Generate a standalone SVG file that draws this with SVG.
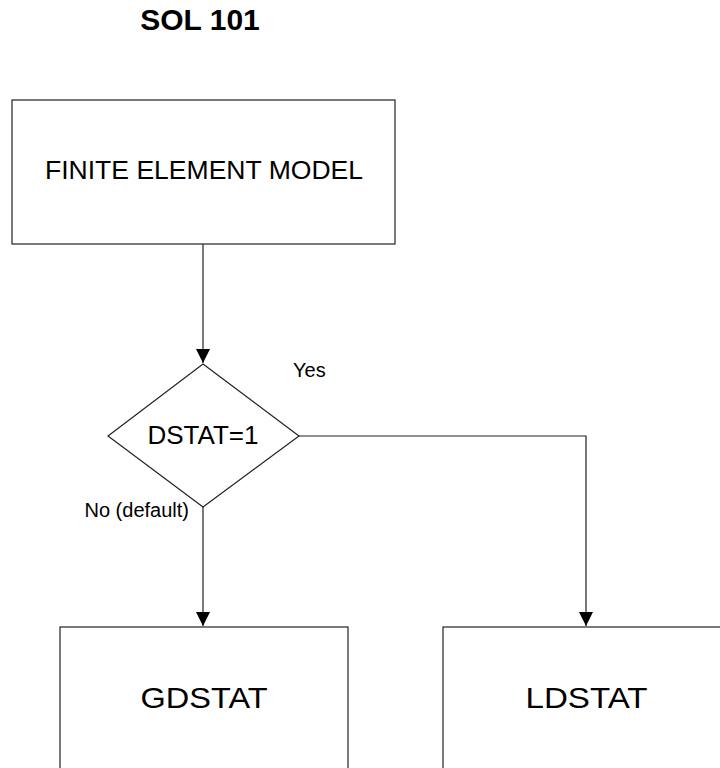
<svg xmlns="http://www.w3.org/2000/svg" width="720" height="768" viewBox="0 0 720 768">
  <defs>
    <style>
      .box { fill: #ffffff; stroke: #222222; stroke-width: 1.2; }
      .wire { fill: none; stroke: #222222; stroke-width: 1.2; }
      .txt { font-family: "Liberation Sans", Arial, sans-serif; fill: #000000; }
    </style>
    <marker id="arrow" markerUnits="userSpaceOnUse" markerWidth="14" markerHeight="14" viewBox="0 0 14 14" refX="14" refY="7" orient="auto">
      <path d="M0,0 L14,7 L0,14 Z" fill="#000000"/>
    </marker>
  </defs>
  <rect width="720" height="768" fill="#ffffff"/>

  <text class="txt" x="200" y="30" font-size="30" font-weight="bold" text-anchor="middle">SOL 101</text>

  <g id="fem">
    <rect class="box" x="12" y="100" width="383" height="144"/>
    <text class="txt" x="204" y="179" font-size="25.5" text-anchor="middle" textLength="318" lengthAdjust="spacingAndGlyphs">FINITE ELEMENT MODEL</text>
  </g>

  <g id="dstat">
    <polygon class="box" points="203,364 299,436 203,507 108,436"/>
    <text class="txt" x="203" y="444" font-size="26" text-anchor="middle">DSTAT=1</text>
  </g>

  <g id="gdstat">
    <rect class="box" x="60" y="627" width="288" height="200"/>
    <text class="txt" x="204" y="708" font-size="30" text-anchor="middle" textLength="127" lengthAdjust="spacingAndGlyphs">GDSTAT</text>
  </g>

  <g id="ldstat">
    <rect class="box" x="443" y="627" width="288" height="200"/>
    <text class="txt" x="586.5" y="708" font-size="30" text-anchor="middle" textLength="122" lengthAdjust="spacingAndGlyphs">LDSTAT</text>
  </g>

  <g id="connectors">
    <line class="wire" x1="203" y1="244" x2="203" y2="363" marker-end="url(#arrow)"/>
    <line class="wire" x1="203" y1="507" x2="203" y2="626" marker-end="url(#arrow)"/>
    <polyline class="wire" points="299,436 586,436 586,626" marker-end="url(#arrow)"/>
    <text class="txt" x="293" y="377" font-size="20">Yes</text>
    <text class="txt" x="189" y="517" font-size="20" text-anchor="end">No (default)</text>
  </g>
</svg>
